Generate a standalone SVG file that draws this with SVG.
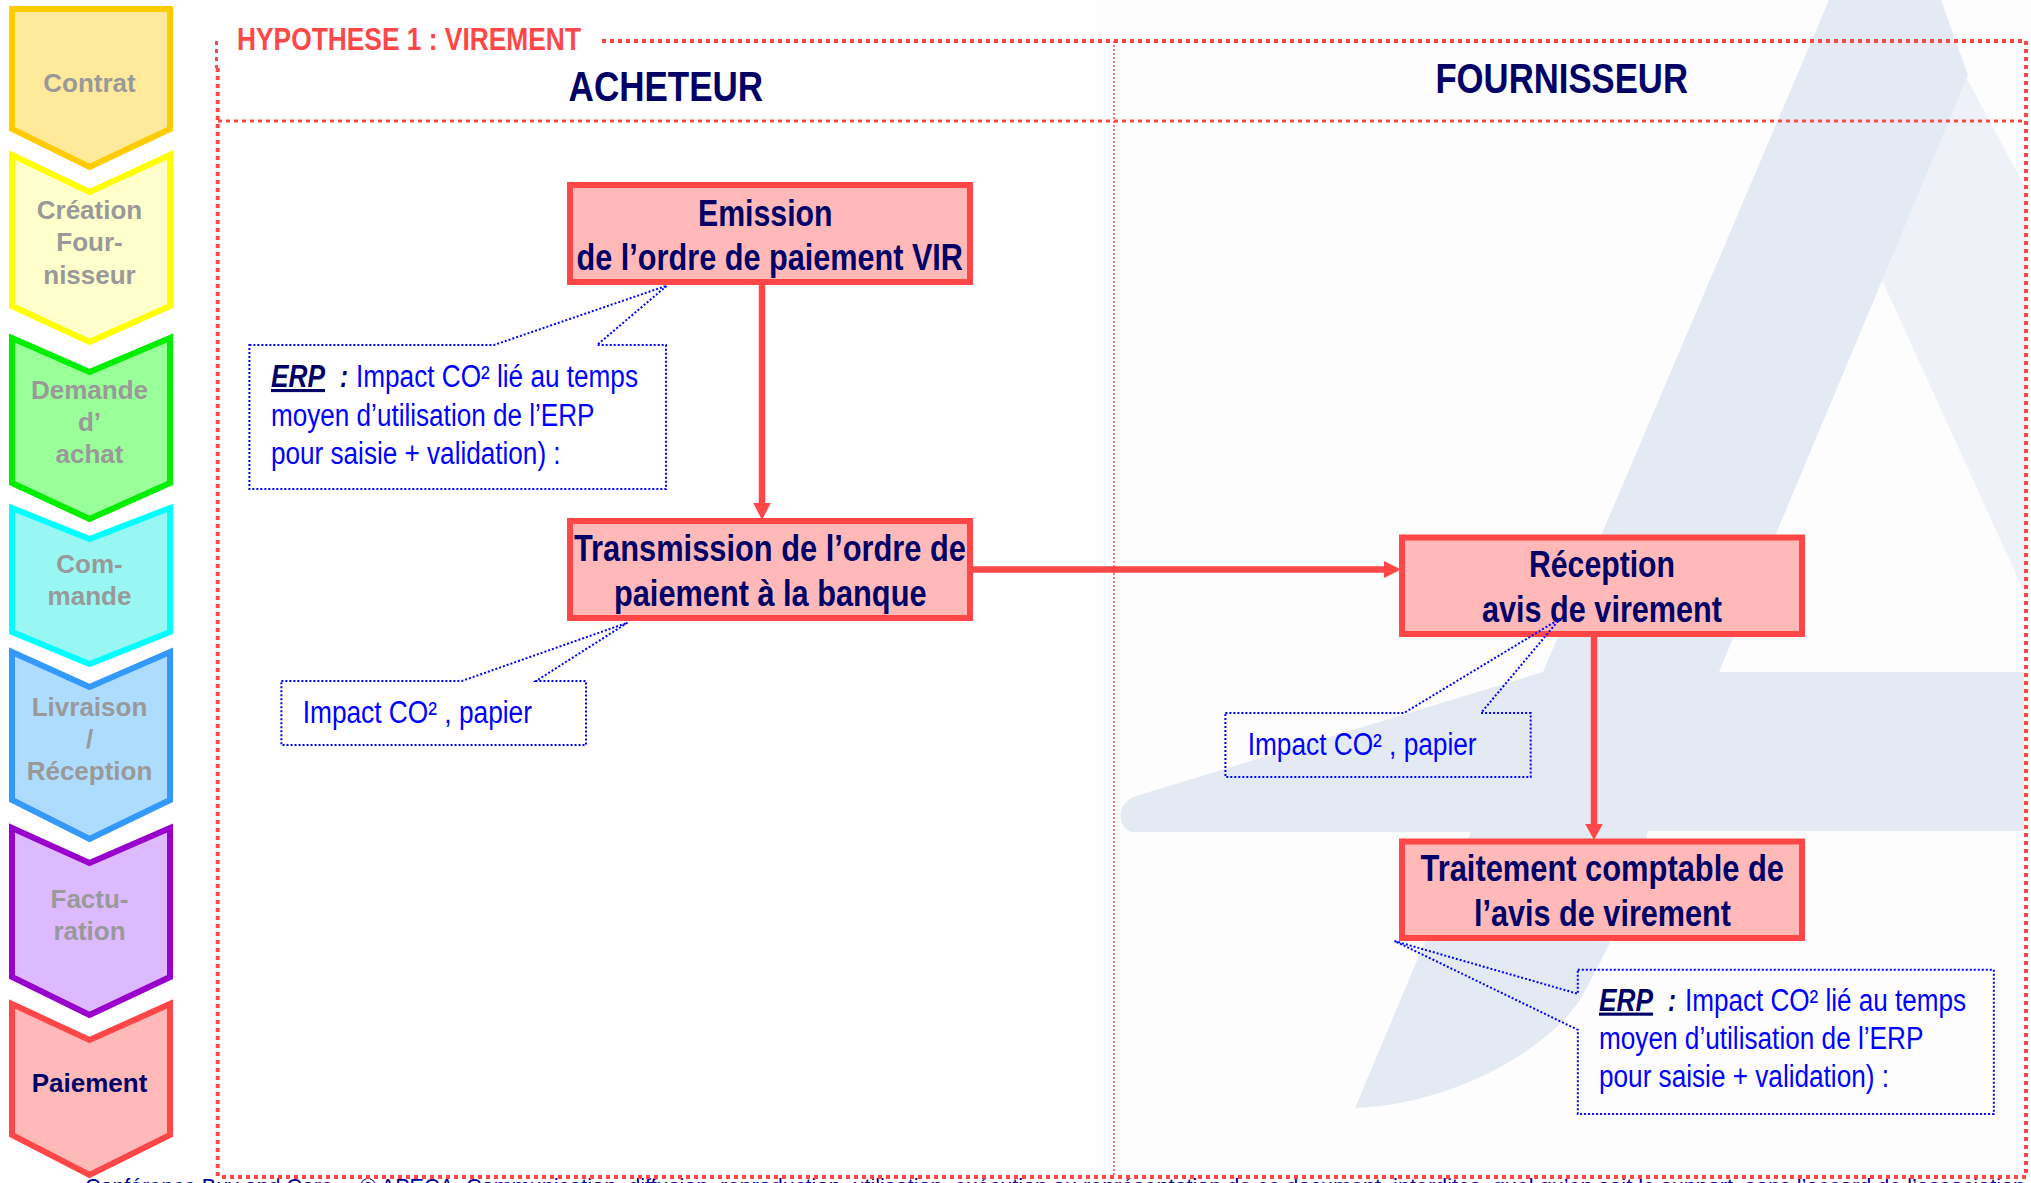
<svg xmlns="http://www.w3.org/2000/svg" width="2031" height="1183" viewBox="0 0 2031 1183">
<style>
text{font-family:"Liberation Sans",Arial,sans-serif}
.step{font-size:26px;font-weight:700;fill:#999999;text-anchor:middle}
.cur{fill:#000066}
.chev{stroke-width:6;stroke-linejoin:miter}
.box{fill:#FFB9B9;stroke:#FF4747;stroke-width:6}
.bt{font-size:37px;font-weight:700;fill:#000066}
.hd{font-size:43px;font-weight:700;fill:#000066}
.ct{font-size:31px;fill:#0000FF}
.ce{font-size:31px;font-weight:700;font-style:italic;fill:#000066}
.call{fill:none;stroke:#0000FF;stroke-width:2;stroke-dasharray:2 2}
.f{fill:none;stroke:#FF4747;stroke-width:4;stroke-dasharray:4 4}
.conn{fill:none;stroke:#FF4747;stroke-width:6.5}
.head{fill:#FF4747}
</style>
<rect width="2031" height="1183" fill="#FFFFFF"/>
<rect x="1097" y="0" width="934" height="1183" fill="#FDFDFD"/>
<g id="watermark">
<path d="M1965 75L2026 189V596L1882 280Z" fill="#EEF2F8"/>
<path d="M1829 0H1941L1968 75L1776 534L1719 672H2024V831H1648C1634 900 1610 945 1580 1000C1545 1052 1450 1105 1355 1108L1471 832H1133C1126 832 1120.500 824 1120.500 815C1120.500 806 1127 799 1136 796L1543 672Z" fill="#E4EAF3"/>
</g>
<g id="footer">
<text x="85" y="1194" font-size="21.4" fill="#000099" textLength="248" lengthAdjust="spacingAndGlyphs">Conférence Buy and Care</text>
<text x="360" y="1194" font-size="21.4" fill="#000099" textLength="1665" lengthAdjust="spacingAndGlyphs">© APECA.  Communication, diffusion, reproduction, utilisation, exécution ou représentation de ce document, interdites, quel qu’en soit le support, sans l’accord de l’association</text>
</g>
<g id="frame">
<path class="f" style="stroke-width:3" d="M216.5 41V68"/>
<path class="f" d="M217.7 68V1177"/>
<path class="f" d="M602 41H2026V1177H218"/>
<path class="f" style="stroke-width:3" d="M218 121H2026"/>
<path class="f" style="stroke-width:1.5;stroke-dasharray:2 2" d="M1114 41V1177"/>
</g>
<g id="title"><text x="237" y="50" font-size="31" font-weight="700" fill="#FF4747" textLength="344" lengthAdjust="spacingAndGlyphs">HYPOTHESE 1 : VIREMENT</text></g>
<g id="acheteur"><text class="hd" x="568.6" y="101" textLength="194.5" lengthAdjust="spacingAndGlyphs">ACHETEUR</text></g>
<g id="fournisseur"><text class="hd" x="1435.4" y="93" textLength="252.6" lengthAdjust="spacingAndGlyphs">FOURNISSEUR</text></g>

<g id="step-contrat"><path class="chev" fill="#FFE99B" stroke="#FFCC00" d="M12 9H170V129L89.5 167L12 129Z"/><text class="step" x="89.5" y="92">Contrat</text></g>
<g id="step-creation"><path class="chev" fill="#FFFFCC" stroke="#FFFF00" d="M12 155L89.5 192L170 155V306L89.5 342L12 306Z"/><text class="step" x="89.5" y="219">Création</text><text class="step" x="89.5" y="251">Four-</text><text class="step" x="89.5" y="284">nisseur</text></g>
<g id="step-demande"><path class="chev" fill="#99FF99" stroke="#00EE00" d="M12 338L89.5 372L170 338V483L89.5 519L12 483Z"/><text class="step" x="89.5" y="399">Demande</text><text class="step" x="89.5" y="431">d’</text><text class="step" x="89.5" y="463">achat</text></g>
<g id="step-commande"><path class="chev" fill="#99F7F3" stroke="#00FFFF" d="M12 508L89.5 539L170 508V632L89.5 664L12 632Z"/><text class="step" x="89.5" y="573">Com-</text><text class="step" x="89.5" y="605">mande</text></g>
<g id="step-livraison"><path class="chev" fill="#AEDCFF" stroke="#3399FF" d="M12 652L89.5 687L170 652V800L89.5 839L12 800Z"/><text class="step" x="89.5" y="716">Livraison</text><text class="step" x="89.5" y="748">/</text><text class="step" x="89.5" y="780">Réception</text></g>
<g id="step-facturation"><path class="chev" fill="#DDB9FF" stroke="#9900CC" d="M12 828L89.5 863L170 828V977L89.5 1015L12 977Z"/><text class="step" x="89.5" y="908">Factu-</text><text class="step" x="89.5" y="940">ration</text></g>
<g id="step-paiement"><path class="chev" fill="#FFB9B9" stroke="#FF4747" d="M12 1004L89.5 1040L170 1004V1135L89.5 1175L12 1135Z"/><text class="step cur" x="89.5" y="1092">Paiement</text></g>

<g id="connectors">
<path class="conn" d="M762 285V505"/><path class="head" d="M753.2 503H770.8L762 520Z"/>
<path class="conn" d="M973 569.5H1386"/><path class="head" d="M1384 561V578L1401 569.5Z"/>
<path class="conn" d="M1594 637V826"/><path class="head" d="M1585.2 824H1602.8L1594 840Z"/>
</g>

<g id="node-emission"><rect class="box" x="570" y="185" width="400" height="97"/>
<text class="bt" x="698" y="225.5" textLength="134.5" lengthAdjust="spacingAndGlyphs">Emission</text>
<text class="bt" x="576.6" y="270" textLength="386.4" lengthAdjust="spacingAndGlyphs">de l’ordre de paiement VIR</text></g>
<g id="node-transmission"><rect class="box" x="570" y="521" width="400" height="97"/>
<text class="bt" x="574" y="561" textLength="392" lengthAdjust="spacingAndGlyphs">Transmission de l’ordre de</text>
<text class="bt" x="614" y="605.5" textLength="312.5" lengthAdjust="spacingAndGlyphs">paiement à la banque</text></g>
<g id="node-reception"><rect class="box" x="1402" y="537.5" width="400" height="96.5"/>
<text class="bt" x="1529" y="577.4" textLength="146" lengthAdjust="spacingAndGlyphs">Réception</text>
<text class="bt" x="1482" y="621.8" textLength="240" lengthAdjust="spacingAndGlyphs">avis de virement</text></g>
<g id="node-traitement"><rect class="box" x="1402" y="841.5" width="400" height="96.5"/>
<text class="bt" x="1420.5" y="881" textLength="363.5" lengthAdjust="spacingAndGlyphs">Traitement comptable de</text>
<text class="bt" x="1474" y="925.7" textLength="257" lengthAdjust="spacingAndGlyphs">l’avis de virement</text></g>

<g id="note-erp-1"><path class="call" d="M249.4 345H494L667 285.6L597 345H666V489H249.4Z"/>
<text class="ce" x="271" y="387" text-decoration="underline" textLength="54" lengthAdjust="spacingAndGlyphs">ERP</text>
<text class="ce" x="340" y="387" textLength="8" lengthAdjust="spacingAndGlyphs">:</text>
<text class="ct" x="356" y="387" textLength="282" lengthAdjust="spacingAndGlyphs">Impact CO² lié au temps</text>
<text class="ct" x="271" y="425.6" textLength="323.5" lengthAdjust="spacingAndGlyphs">moyen d’utilisation de l’ERP</text>
<text class="ct" x="271" y="464" textLength="289.6" lengthAdjust="spacingAndGlyphs">pour saisie + validation) :</text></g>
<g id="note-papier-1"><path class="call" d="M281.4 681H461.7L627.5 622.7L536 681H586V745H281.4Z"/>
<text class="ct" x="302.7" y="723" textLength="229.3" lengthAdjust="spacingAndGlyphs">Impact CO² , papier</text></g>
<g id="note-papier-2"><path class="call" d="M1225.4 713H1404L1560 618.7L1481 713H1530.7V777H1225.4Z"/>
<text class="ct" x="1247.7" y="754.6" textLength="228.9" lengthAdjust="spacingAndGlyphs">Impact CO² , papier</text></g>
<g id="note-erp-2"><path class="call" d="M1577.8 969.7H1993.8V1114H1577.8V1029.8L1394.5 941L1577.8 993.8Z"/>
<text class="ce" x="1599" y="1010.6" text-decoration="underline" textLength="54" lengthAdjust="spacingAndGlyphs">ERP</text>
<text class="ce" x="1668" y="1010.6" textLength="8" lengthAdjust="spacingAndGlyphs">:</text>
<text class="ct" x="1685" y="1010.6" textLength="281" lengthAdjust="spacingAndGlyphs">Impact CO² lié au temps</text>
<text class="ct" x="1599" y="1049" textLength="324.4" lengthAdjust="spacingAndGlyphs">moyen d’utilisation de l’ERP</text>
<text class="ct" x="1599" y="1087" textLength="290" lengthAdjust="spacingAndGlyphs">pour saisie + validation) :</text></g>
</svg>
